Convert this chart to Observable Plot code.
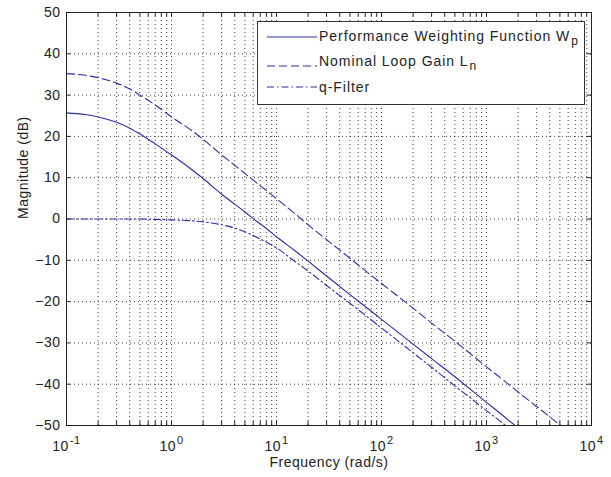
<!DOCTYPE html>
<html>
<head>
<meta charset="utf-8">
<script src="https://cdn.jsdelivr.net/npm/d3@7"></script>
<script src="https://cdn.jsdelivr.net/npm/@observablehq/plot@0.6"></script>
<style>
  html, body { margin: 0; padding: 0; background: #fff; }
  #wrap { position: relative; width: 611px; height: 477px; font-family: "Liberation Sans", Arial, sans-serif; color: #222; }
  #legend { position: absolute; left: 257px; top: 21px; width: 326px; height: 82px; background: #fff; border: 1px solid #333; }
  #legend .row { position: absolute; left: 61px; font-size: 14px; line-height: 16px; letter-spacing: 0.95px; white-space: nowrap; color: #222; }
  #legend .sub { font-size: 12px; position: relative; top: 4px; letter-spacing: 0; margin-left: 1px; }
  #legend svg { position: absolute; left: 0; top: 0; }
</style>
</head>
<body>
<div id="wrap"></div>
<script>
// ---- data ----
const seriesNames = ["Performance Weighting Function W", "Nominal Loop Gain L", "q-Filter"];
const seriesSubs = ["p", "n", ""];

const freqWp = [0.1,0.15,0.2,0.3,0.4,0.5,0.7,1,1.5,2,3,4,5,6,8,10,15,20,30,50,70,100,150,200,300,500,700,1000,1500,2000];
const magWp  = [25.7,25.3,24.7,23.4,22.0,20.6,18.2,15.5,12.3,9.8,6.0,3.6,1.7,0.1,-2.3,-4.3,-7.7,-10.2,-13.8,-18.3,-21.2,-24.3,-27.8,-30.3,-33.8,-38.2,-41.2,-44.4,-48.0,-50.6];

const freqLn = [0.1,0.15,0.2,0.3,0.4,0.5,0.7,1,1.5,2,3,4,5,6,8,10,15,20,30,50,70,100,150,200,300,500,700,1000,1500,2000,3000,4000,5000,5500];
const magLn  = [35.2,34.8,34.2,32.9,31.5,30.0,27.6,24.7,21.7,19.3,15.5,13.0,11.0,9.4,6.9,4.9,1.3,-1.4,-5.0,-9.5,-12.5,-15.6,-19.1,-21.6,-25.2,-29.6,-32.6,-35.8,-39.3,-41.9,-45.4,-47.9,-49.9,-50.8];

const freqQ = [0.1,0.2,0.5,0.7,1,1.5,2,3,4,5,6,8,10,15,20,30,50,70,100,150,200,300,500,700,1000,1500,1600];
const magQ  = [0,0,0,-0.1,-0.2,-0.4,-0.7,-1.4,-2.2,-3.1,-4.0,-5.6,-7.0,-10.3,-12.6,-16.1,-20.4,-23.3,-26.4,-29.9,-32.4,-35.9,-40.4,-43.3,-46.4,-49.9,-50.5];

const xMajor = [0.1, 1, 10, 100, 1000, 10000];
const xMinor = [];
for (let e = -1; e < 4; e++) for (let m = 2; m <= 9; m++) xMinor.push(m * Math.pow(10, e));
const xAll = xMajor.concat(xMinor);
const yTicks = [-50,-40,-30,-20,-10,0,10,20,30,40,50];
const yGrid = [-40,-30,-20,-10,0,10,20,30,40];

// ---- styles ----
const lineColor = "#2c2ca6";
const dashes = ["none", "8,4", "7,3,1.5,3"];
const gridStyle = {stroke: "#111", strokeOpacity: 0.8, strokeDasharray: "1,3", strokeWidth: 1};

const toRows = (fs, ms) => fs.map((f, i) => ({f, m: ms[i]}));
const W = toRows(freqWp, magWp), L = toRows(freqLn, magLn), Q = toRows(freqQ, magQ);

const plotW = 611 - 66 - 20, plotH = 477 - 12 - 52;
const tk = 4;

const chart = Plot.plot({
  width: 611, height: 477,
  marginLeft: 66, marginRight: 20, marginTop: 12, marginBottom: 52,
  style: {fontFamily: "Liberation Sans, Arial, sans-serif", fontSize: "14px", color: "#222", background: "#fff"},
  x: {type: "log", domain: [0.1, 10000]},
  y: {domain: [-50, 50]},
  marks: [
    Plot.gridX(xAll, gridStyle),
    Plot.gridY(yGrid, gridStyle),
    Plot.line(W, {x: "f", y: "m", stroke: lineColor, strokeWidth: 1.1, curve: "monotone-x", clip: true}),
    Plot.line(L, {x: "f", y: "m", stroke: lineColor, strokeWidth: 1.1, strokeDasharray: dashes[1], curve: "monotone-x", clip: true}),
    Plot.line(Q, {x: "f", y: "m", stroke: lineColor, strokeWidth: 1.1, strokeDasharray: dashes[2], curve: "monotone-x", clip: true}),
    // inward ticks on all four sides
    Plot.tickX(xAll, {x: d => d, insetTop: plotH - tk, stroke: "#222"}),
    Plot.tickX(xAll, {x: d => d, insetBottom: plotH - tk, stroke: "#222"}),
    Plot.tickY(yTicks, {y: d => d, insetRight: plotW - tk, stroke: "#222"}),
    Plot.tickY(yTicks, {y: d => d, insetLeft: plotW - tk, stroke: "#222"}),
    Plot.frame({stroke: "#222"}),
    Plot.axisX(xMajor, {tickSize: 0, tickPadding: 16, label: null, fontSize: 14,
      tickFormat: d => "10^" + Math.round(Math.log10(d))}),
    Plot.axisY(yTicks, {tickSize: 0, tickPadding: 6, label: null, fontSize: 14}),
    Plot.text(["Frequency (rad/s)"], {text: d => d, frameAnchor: "bottom", dy: 41, fontSize: 14, fill: "#222"}),
    Plot.text(["Magnitude (dB)"], {text: d => d, frameAnchor: "left", rotate: -90, dx: -43, fontSize: 14, fill: "#222"})
  ]
});

// superscript exponents on x tick labels
d3.select(chart).selectAll('g[aria-label="x-axis tick label"] text').each(function() {
  const t = d3.select(this);
  const parts = t.text().split("^");
  if (parts.length !== 2) return;
  t.text(null);
  t.append("tspan").text(parts[0]);
  t.append("tspan").attr("dy", "-0.7em").attr("dx", "1").attr("font-size", "11px").text(parts[1]);
});
d3.select(chart).selectAll('text').style("letter-spacing", "0.5px");

const wrap = document.getElementById("wrap");
wrap.appendChild(chart);

// legend
const legend = document.createElement("div");
legend.id = "legend";
const rowTops = [5.5, 31, 57];
const lineYs = [15, 44, 65];
const svgNS = "http://www.w3.org/2000/svg";
const sv = document.createElementNS(svgNS, "svg");
sv.setAttribute("width", 70); sv.setAttribute("height", 82);
seriesNames.forEach((name, i) => {
  const ln = document.createElementNS(svgNS, "line");
  ln.setAttribute("x1", 9); ln.setAttribute("x2", 59);
  ln.setAttribute("y1", lineYs[i]); ln.setAttribute("y2", lineYs[i]);
  ln.setAttribute("stroke", lineColor); ln.setAttribute("stroke-width", 1.1);
  if (dashes[i] !== "none") ln.setAttribute("stroke-dasharray", dashes[i]);
  sv.appendChild(ln);
  const row = document.createElement("div");
  row.className = "row";
  row.style.top = rowTops[i] + "px";
  row.textContent = name;
  if (seriesSubs[i]) {
    const s = document.createElement("span");
    s.className = "sub"; s.textContent = seriesSubs[i];
    row.appendChild(s);
  }
  legend.appendChild(row);
});
legend.appendChild(sv);
wrap.appendChild(legend);
</script>
</body>
</html>
